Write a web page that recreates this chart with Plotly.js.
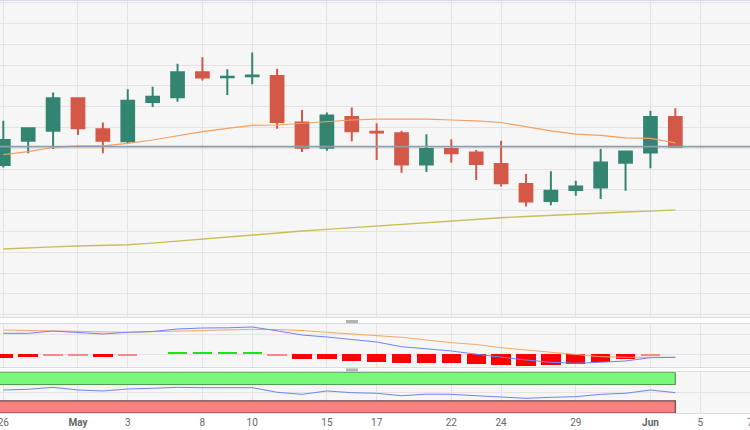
<!DOCTYPE html>
<html>
<head>
<meta charset="utf-8">
<script src="https://cdn.plot.ly/plotly-3.0.1.min.js"></script>
<style>
html,body{margin:0;padding:0;background:#fff;}
#chart{width:750px;height:430px;}
</style>
</head>
<body>
<div id="chart"></div>
<script>
// ---- data ----
const dates = ['2023-04-26','2023-04-27','2023-04-28','2023-05-01','2023-05-02','2023-05-03','2023-05-04','2023-05-05',
  '2023-05-08','2023-05-09','2023-05-10','2023-05-11','2023-05-12','2023-05-15','2023-05-16','2023-05-17','2023-05-18',
  '2023-05-19','2023-05-22','2023-05-23','2023-05-24','2023-05-25','2023-05-26','2023-05-29','2023-05-30','2023-05-31',
  '2023-06-01','2023-06-02'];
const futureDates = ['2023-06-05','2023-06-06','2023-06-07'];

const open  = [1.2410,1.2468,1.2492,1.2570,1.2496,1.2467,1.2561,1.2573,1.2633,1.2621,1.2623,1.2624,1.2512,1.2451,1.2525,1.2490,1.2486,1.2411,1.2448,1.2440,1.2412,1.2364,1.2323,1.2350,1.2356,1.2415,1.2440,1.2525];
const high  = [1.2516,1.2500,1.2584,1.2571,1.2512,1.2592,1.2598,1.2653,1.2669,1.2640,1.2680,1.2641,1.2542,1.2536,1.2548,1.2510,1.2492,1.2484,1.2472,1.2446,1.2468,1.2388,1.2395,1.2372,1.2448,1.2444,1.2540,1.2546];
const low   = [1.2404,1.2438,1.2448,1.2482,1.2438,1.2463,1.2549,1.2562,1.2613,1.2578,1.2604,1.2497,1.2441,1.2444,1.2467,1.2422,1.2391,1.2393,1.2415,1.2374,1.2358,1.2310,1.2313,1.2336,1.2328,1.2348,1.2402,1.2451];
const close = [1.2470,1.2498,1.2570,1.2498,1.2468,1.2564,1.2574,1.2633,1.2620,1.2622,1.2625,1.2513,1.2451,1.2529,1.2491,1.2488,1.2411,1.2448,1.2438,1.2412,1.2366,1.2322,1.2348,1.2358,1.2416,1.2442,1.2525,1.2454];

const ma20  = [1.2435,1.2442,1.2452,1.2456,1.2456,1.2462,1.2470,1.2480,1.2490,1.2498,1.2505,1.2506,1.2510,1.2515,1.2518,1.2520,1.2520,1.2520,1.2518,1.2516,1.2512,1.2502,1.2492,1.2484,1.2481,1.2475,1.2474,1.2463];
const ma200 = [1.2208,1.2211,1.2213,1.2215,1.2216,1.2218,1.2222,1.2227,1.2232,1.2237,1.2242,1.2247,1.2251,1.2255,1.2259,1.2263,1.2267,1.2271,1.2276,1.2280,1.2283,1.2286,1.2289,1.2292,1.2294,1.2297,1.2299,1.2302];

const macd   = [0.00212,0.00212,0.00235,0.00222,0.00205,0.00222,0.00230,0.00255,0.00265,0.00267,0.00275,0.00237,0.00195,0.00175,0.00152,0.00125,0.00078,0.00059,0.00035,0.00003,-0.00028,-0.00055,-0.00078,-0.00088,-0.00078,-0.00065,-0.00032,-0.00028];
const signal = [0.00245,0.00240,0.00235,0.00228,0.00225,0.00222,0.00228,0.00235,0.00245,0.00248,0.00252,0.00250,0.00240,0.00222,0.00205,0.00190,0.00172,0.00145,0.00118,0.00100,0.00068,0.00045,0.00022,-0.00005,-0.00022,-0.00028,-0.00028,-0.00028];
const hist   = [-0.00040,-0.00027,-0.00015,-0.00013,-0.00027,-0.00013,0.00005,0.00020,0.00025,0.00023,0.00023,-0.00015,-0.00050,-0.00050,-0.00067,-0.00073,-0.00083,-0.00083,-0.00090,-0.00097,-0.00107,-0.00113,-0.00107,-0.00097,-0.00073,-0.00047,-0.00013,0.00007];

const rsi = [56.5,58.2,63.1,56.5,54.1,59.0,60.7,63.1,62.2,62.2,62.2,50.9,45.9,54.1,49.9,48.4,42.5,46.2,45.9,42.5,40.0,36.1,38.6,40.0,45.9,48.4,56.5,49.9];
const rsiUpper = 70, rsiLower = 30, rsiMax = 100, rsiMin = 0;

const tickDates  = ['2023-04-26','2023-05-01','2023-05-03','2023-05-08','2023-05-10','2023-05-15','2023-05-17','2023-05-22','2023-05-24','2023-05-29','2023-06-01','2023-06-05','2023-06-07'];
const tickLabels = ['26','<b>May</b>','3','8','10','15','17','22','24','29','<b>Jun</b>','5','7'];

// ---- build ----
const axisDates = dates.concat(futureDates);
const xi = dates.map((d) => axisDates.indexOf(d));
const tickvals = tickDates.map((d) => axisDates.indexOf(d));
const xFirst = xi[0] - 1, xLast = xi[xi.length - 1];

const UP = '#338571', DOWN = '#d45848';
const histThreshold = 0.00018;
const histColors = hist.map((v) => {
  const strong = Math.abs(v) >= histThreshold;
  if (v >= 0) return strong ? '#19e619' : '#a8eea8';
  return strong ? '#ff0000' : '#f08c8c';
});

const traces = [
  {type:'candlestick', x:xi, open:open, high:high, low:low, close:close, xaxis:'x', yaxis:'y',
   increasing:{line:{color:UP,width:2}, fillcolor:UP},
   decreasing:{line:{color:DOWN,width:2}, fillcolor:DOWN},
   whiskerwidth:0, hoverinfo:'skip', showlegend:false},
  {type:'scatter', mode:'lines', x:xi, y:ma20, xaxis:'x', yaxis:'y', line:{color:'#f2a062', width:1.2}, hoverinfo:'skip'},
  {type:'scatter', mode:'lines', x:xi, y:ma200, xaxis:'x', yaxis:'y', line:{color:'#c9bd5c', width:1.4}, hoverinfo:'skip'},
  // MACD panel
  {type:'bar', x:xi, y:hist, base:0, width:0.78, xaxis:'x', yaxis:'y2', marker:{color:histColors, line:{width:0}}, hoverinfo:'skip'},
  {type:'scatter', mode:'lines', x:xi, y:signal, xaxis:'x', yaxis:'y2', line:{color:'#f5a665', width:1}, hoverinfo:'skip'},
  {type:'scatter', mode:'lines', x:xi, y:macd, xaxis:'x', yaxis:'y2', line:{color:'#6f82f2', width:1}, hoverinfo:'skip'},
  // RSI panel bands
  {type:'scatter', mode:'lines', x:[xFirst,xLast,xLast,xFirst,xFirst], y:[rsiUpper,rsiUpper,rsiMax,rsiMax,rsiUpper],
   fill:'toself', fillcolor:'#7bf87b', line:{color:'#4f9f4f', width:1.2}, xaxis:'x', yaxis:'y3', hoverinfo:'skip'},
  {type:'scatter', mode:'lines', x:[xFirst,xLast,xLast,xFirst,xFirst], y:[rsiLower,rsiLower,rsiMin,rsiMin,rsiLower],
   fill:'toself', fillcolor:'#fa8080', line:{color:'#6e4a4a', width:1.2}, xaxis:'x', yaxis:'y3', hoverinfo:'skip'},
  {type:'scatter', mode:'lines', x:xi, y:rsi, xaxis:'x', yaxis:'y3', line:{color:'#6f82f2', width:1}, hoverinfo:'skip'}
];

const grid = '#e3e3e3';
const border = '#d9dce8';
const layout = {
  width:750, height:430,
  margin:{l:0, r:0, t:1, b:17, pad:0},
  paper_bgcolor:'#ffffff', plot_bgcolor:'#f6f6f6',
  showlegend:false, bargap:0,
  boxgap:0.27,
  font:{family:'Roboto, Arial, sans-serif', size:10, color:'#666'},
  xaxis:{domain:[0,1], anchor:'y3', range:[-0.133, 30], tickmode:'array', tickvals:tickvals, ticktext:tickLabels,
    showgrid:true, gridcolor:grid, gridwidth:1, zeroline:false, showline:true, mirror:'all', linecolor:border, linewidth:1,
    ticks:'', ticklabeloverflow:'allow', tickfont:{size:10, color:'#666', family:'Roboto, Arial, sans-serif'},
    rangeslider:{visible:false}, fixedrange:true},
  yaxis:{domain:[0.2318,1], range:[1.20432,1.28041], tick0:1.2, dtick:0.005, showticklabels:false,
    showgrid:true, gridcolor:grid, zeroline:false, showline:false, ticks:'', fixedrange:true},
  yaxis2:{domain:[0.1124,0.2160], range:[-0.00122,0.00305], tickmode:'array', tickvals:[0,0.002], showticklabels:false,
    showgrid:true, gridcolor:grid, zeroline:false, showline:false, ticks:'', fixedrange:true},
  yaxis3:{domain:[0,0.0988], range:[0,100], tickmode:'array', tickvals:[50], showticklabels:false,
    showgrid:true, gridcolor:grid, zeroline:false, showline:false, ticks:'', fixedrange:true},
  shapes:[
    {type:'line', xref:'paper', x0:0, x1:1, yref:'y', y0:close[close.length-1], y1:close[close.length-1],
     line:{color:'#8e9cb0', width:1.6}, layer:'above'},
    {type:'rect', xref:'paper', yref:'paper', x0:346/750, x1:358/750, y0:(413-323.3)/412, y1:(413-320)/412,
     fillcolor:'#b5b5b5', line:{width:0}},
    {type:'rect', xref:'paper', yref:'paper', x0:346/750, x1:358/750, y0:(413-371.7)/412, y1:(413-368.4)/412,
     fillcolor:'#b5b5b5', line:{width:0}}
  ]
};

Plotly.newPlot('chart', traces, layout, {displayModeBar:false, staticPlot:true});
</script>
</body>
</html>
